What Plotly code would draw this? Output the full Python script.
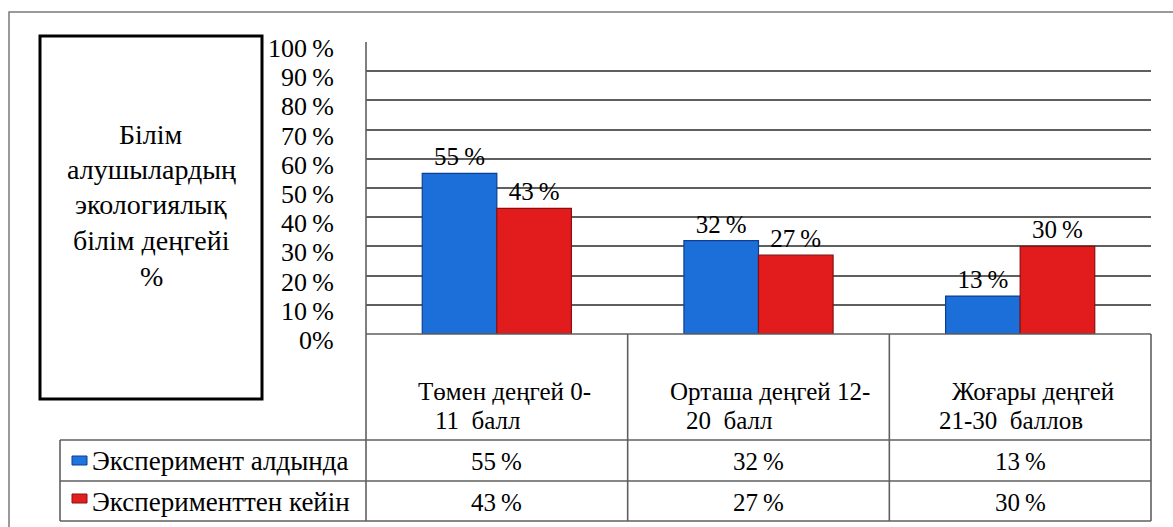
import plotly.graph_objects as go

W, H = 1173, 527

categories = ["Төмен деңгей 0-\n11\u00a0\u00a0балл",
              "Орташа деңгей 12-\n20\u00a0\u00a0балл",
              "Жоғары деңгей\n21-30\u00a0\u00a0баллов"]
series_names = ["Эксперимент алдында", "Эксперименттен кейін"]
before = [55, 32, 13]
after = [43, 27, 30]
y_ticks = [0, 10, 20, 30, 40, 50, 60, 70, 80, 90, 100]
y_tick_labels = ["0%"] + [f"{v}\u2009%" for v in y_ticks[1:]]
title_lines = ["Білім", "алушылардың", "экологиялық", "білім деңгейі", "%"]

FONT = "'Liberation Serif', 'Times New Roman', Tinos, serif"
BLUE, BLUE_EDGE = "#1C6ED8", "#0A3F95"
RED, RED_EDGE = "#E21C1C", "#8E0E0E"
GRID = "#5f5f5f"


def X(px):
    return px / W


def Y(py):
    return 1 - py / H


PL, PR, PT, PB = 366, 1151, 42, 334
ROW1, ROW2, ROWB = 440, 481, 521
TL = 60

cat_keys = ["c0", "c1", "c2"]

fig = go.Figure()
fig.add_trace(go.Bar(
    x=cat_keys, y=before, name=series_names[0],
    marker=dict(color=BLUE, line=dict(color=BLUE_EDGE, width=1.2)),
    text=[f"{v}\u2009%" for v in before], textposition="outside",
    textfont=dict(family=FONT, size=25, color="black"), cliponaxis=False))
fig.add_trace(go.Bar(
    x=cat_keys, y=after, name=series_names[1],
    marker=dict(color=RED, line=dict(color=RED_EDGE, width=1.2)),
    text=[f"{v}\u2009%" for v in after], textposition="outside",
    textfont=dict(family=FONT, size=25, color="black"), cliponaxis=False))

shapes = []
line_style = dict(color=GRID, width=1.6)
shapes.append(dict(type="rect", xref="paper", yref="paper",
                   x0=X(9), x1=X(1185), y0=Y(540), y1=Y(12),
                   line=dict(color="#7a7a7a", width=1.5)))
shapes.append(dict(type="rect", xref="paper", yref="paper",
                   x0=X(40), x1=X(262), y0=Y(399), y1=Y(36),
                   line=dict(color="black", width=3)))
for py, x0 in [(PB, PL), (ROW1, TL), (ROW2, TL), (ROWB, TL)]:
    shapes.append(dict(type="line", xref="paper", yref="paper",
                       x0=X(x0), x1=X(PR), y0=Y(py), y1=Y(py), line=line_style))
cw = (PR - PL) / 3
for i in range(4):
    px = PL + i * cw
    top = PT if i == 0 else PB
    shapes.append(dict(type="line", xref="paper", yref="paper",
                       x0=X(px), x1=X(px), y0=Y(top), y1=Y(ROWB), line=line_style))
shapes.append(dict(type="line", xref="paper", yref="paper",
                   x0=X(TL), x1=X(TL), y0=Y(ROW1), y1=Y(ROWB), line=line_style))
for (ky, col, edge) in [(456, "#1f74e0", "#0a3f95"), (494, "#e02020", "#8e0e0e")]:
    shapes.append(dict(type="rect", xref="paper", yref="paper",
                       x0=X(72), x1=X(87), y0=Y(ky + 9), y1=Y(ky),
                       fillcolor=col, line=dict(color=edge, width=1)))

annotations = []
for i, t in enumerate(title_lines):
    annotations.append(dict(xref="paper", yref="paper", x=X(151), y=Y(134 + i * 35.5),
                            text=t, showarrow=False, xanchor="center", yanchor="middle",
                            font=dict(family=FONT, size=28, color="black")))
line_starts = [(416, 433), (668, 684), (950, 937)]
for i, c in enumerate(categories):
    for k, part in enumerate(c.split("\n")):
        annotations.append(dict(xref="paper", yref="paper", x=X(line_starts[i][k]),
                                y=Y(391 + k * 29), text=part, showarrow=False,
                                xanchor="left", yanchor="middle",
                                font=dict(family=FONT, size=25, color="black")))
for j, (nm, vals) in enumerate([(series_names[0], before), (series_names[1], after)]):
    cy = [461, 502][j]
    annotations.append(dict(xref="paper", yref="paper", x=X(90), y=Y(cy),
                            text=nm, showarrow=False, xanchor="left", yanchor="middle",
                            font=dict(family=FONT, size=27, color="black")))
    for i, v in enumerate(vals):
        annotations.append(dict(xref="paper", yref="paper", x=X(PL + (i + 0.5) * cw), y=Y(cy),
                                text=f"{v}\u2009%", showarrow=False, xanchor="center",
                                yanchor="middle", font=dict(family=FONT, size=25, color="black")))
for v, lab in zip(y_ticks, y_tick_labels):
    annotations.append(dict(xref="paper", yref="y", x=X(336), y=v, yshift=-6.5,
                            text=lab, showarrow=False, xanchor="right", yanchor="middle",
                            font=dict(family=FONT, size=26, color="black")))

fig.update_layout(
    width=W, height=H, margin=dict(l=0, r=0, t=0, b=0),
    paper_bgcolor="white", plot_bgcolor="white",
    font=dict(family=FONT),
    showlegend=False, barmode="group", bargap=0.43, bargroupgap=0,
    xaxis=dict(domain=[X(PL), X(PR)], showticklabels=False, showgrid=False,
               zeroline=False, showline=False, ticks=""),
    yaxis=dict(domain=[Y(PB), Y(PT)], range=[0, 100], tickvals=y_ticks,
               showticklabels=False, showgrid=True, gridcolor=GRID, gridwidth=1.6,
               zeroline=False, showline=False, ticks=""),
    shapes=shapes, annotations=annotations,
)

fig.write_html("out.html", config={"displayModeBar": False},
               post_script="document.body.style.margin='0';document.body.style.overflow='hidden';")
